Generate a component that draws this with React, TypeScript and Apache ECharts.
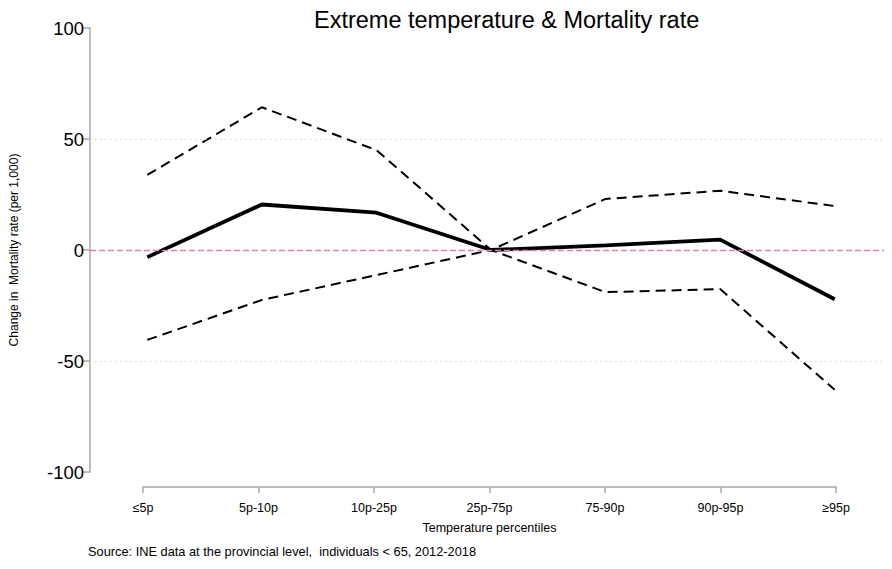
import React, { useEffect, useRef } from "react";
import * as echarts from "echarts";

const categories = ["≤5p", "5p-10p", "10p-25p", "25p-75p", "75-90p", "90p-95p", "≥95p"];
const estimate = [-3.2, 20.5, 16.8, 0, 2.1, 4.7, -22.2];
const upperCI = [33.8, 64.3, 45.0, 0, 23.0, 26.7, 19.8];
const lowerCI = [-40.5, -22.5, -11.3, 0, -19.0, -17.6, -63.0];
const yTicks = { min: -100, max: 100, interval: 50 };

const TITLE = "Extreme temperature & Mortality rate";
const X_NAME = "Temperature percentiles";
const Y_NAME = "Change in  Mortality rate (per 1,000)";
const SOURCE = "Source: INE data at the provincial level,  individuals < 65, 2012-2018";

export default function App() {
  const ref = useRef<HTMLDivElement>(null);
  useEffect(() => {
    if (!ref.current) return;
    const chart = echarts.init(ref.current, null, { renderer: "svg" });
    const font = "'Liberation Sans', Arial, sans-serif";
    const narrow = "'Liberation Sans Narrow', 'Liberation Sans', Arial, sans-serif";
    chart.setOption({
      animation: false,
      backgroundColor: "#ffffff",
      title: {
        text: TITLE,
        left: 309,
        top: 3,
        textStyle: { fontFamily: font, fontSize: 23.5, fontWeight: "normal", color: "#000" },
      },
      grid: [
        { left: 85, top: 28, height: 444, width: 808.5 },
        { left: 143, top: 28, width: 693, bottom: 82 },
      ],
      xAxis: [
        { type: "category", gridIndex: 0, data: categories, boundaryGap: true, show: false },
        {
          type: "category",
          gridIndex: 1,
          data: categories,
          boundaryGap: false,
          position: "bottom",
          axisLine: { show: true, onZero: false, lineStyle: { color: "#a8a8a8", width: 1.5 } },
          axisTick: { show: true, length: 6, inside: false, lineStyle: { color: "#a8a8a8", width: 1.5 } },
          axisLabel: { margin: 14, fontFamily: narrow, fontSize: 12.5, color: "#000" },
          name: X_NAME,
          nameLocation: "middle",
          nameGap: 34,
          nameTextStyle: { fontFamily: narrow, fontSize: 12.5, color: "#000" },
          splitLine: { show: false },
        },
      ],
      yAxis: [
        {
          type: "value",
          gridIndex: 0,
          min: yTicks.min,
          max: yTicks.max,
          interval: yTicks.interval,
          axisLine: { show: true, lineStyle: { color: "#a8a8a8", width: 1.5 } },
          axisTick: { show: true, length: 8, lineStyle: { color: "#a8a8a8", width: 1.5 } },
          axisLabel: { margin: 6, fontFamily: font, fontSize: 18.5, color: "#000" },
          splitLine: { show: false },
          name: Y_NAME,
          nameLocation: "middle",
          nameRotate: 90,
          nameGap: 70,
          nameTextStyle: { fontFamily: font, fontSize: 12, color: "#000" },
        },
        { type: "value", gridIndex: 1, min: yTicks.min, max: yTicks.max, show: false },
      ],
      series: [
        {
          type: "line",
          name: "upper",
          xAxisIndex: 0,
          yAxisIndex: 0,
          data: upperCI,
          symbol: "none",
          lineStyle: { color: "#000", width: 2, type: [10, 6] },
          markLine: {
            silent: true,
            symbol: "none",
            label: { show: false },
            data: [
              { yAxis: 50, lineStyle: { color: "#cfcfcf", width: 1.2, type: [1.5, 3.5] } },
              { yAxis: -50, lineStyle: { color: "#cfcfcf", width: 1.2, type: [1.5, 3.5] } },
              { yAxis: 0, lineStyle: { color: "#e07bb5", width: 1.3, type: [6, 3] } },
            ],
          },
          z: 3,
        },
        {
          type: "line",
          name: "lower",
          xAxisIndex: 0,
          yAxisIndex: 0,
          data: lowerCI,
          symbol: "none",
          lineStyle: { color: "#000", width: 2, type: [10, 6] },
          z: 3,
        },
        {
          type: "line",
          name: "estimate",
          xAxisIndex: 0,
          yAxisIndex: 0,
          data: estimate,
          symbol: "none",
          lineStyle: { color: "#000", width: 3.8, type: "solid" },
          z: 4,
        },
      ],
      graphic: [
        {
          type: "text",
          left: 88,
          top: 545,
          style: { text: SOURCE, fontFamily: narrow, fontSize: 12.8, fill: "#000" },
        },
      ],
    });
    return () => chart.dispose();
  }, []);
  return <div ref={ref} style={{ width: 892, height: 569, margin: -8 }} />;
}
